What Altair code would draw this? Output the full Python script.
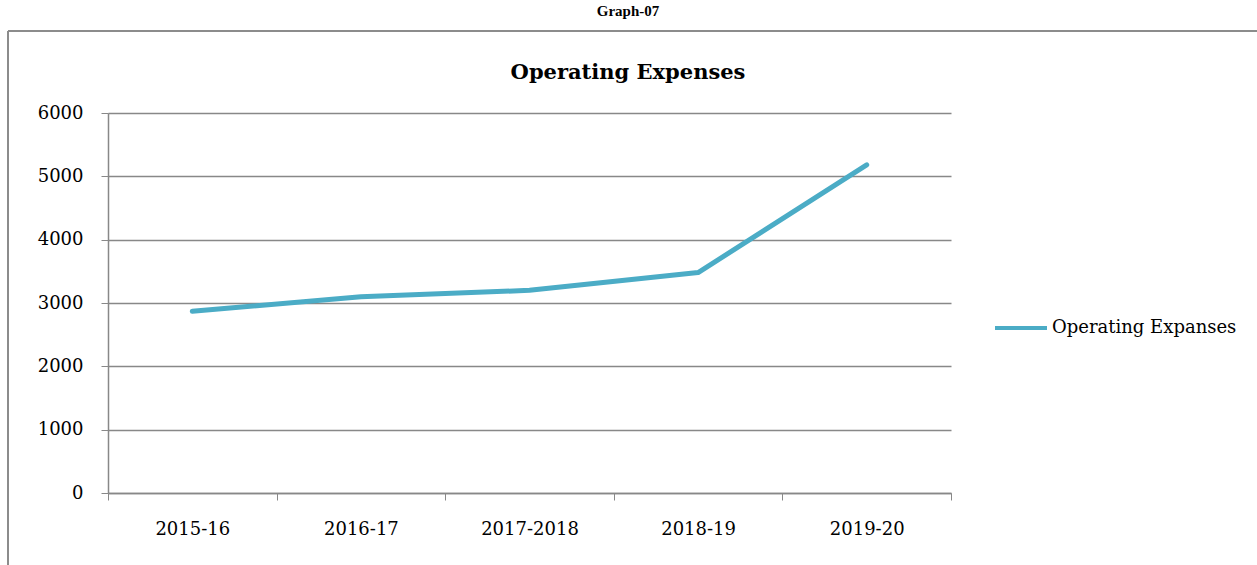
import altair as alt
import pandas as pd

# Operating expenses by financial year
years = ["2015-16", "2016-17", "2017-2018", "2018-19", "2019-20"]
expenses = [2870, 3100, 3200, 3480, 5180]
series_name = "Operating Expanses"
page_heading = "Graph-07"
chart_title = "Operating Expenses"

df = pd.DataFrame({"Year": years, "Value": expenses, "Series": [series_name] * len(years)})

LINE_COLOR = "#4BACC6"
GRID_COLOR = "#888888"
FONT = "DejaVu Serif"

line = alt.Chart(df).mark_line(strokeWidth=5, strokeCap="round", strokeJoin="round").encode(
    x=alt.X(
        "Year:N",
        sort=years,
        scale=alt.Scale(paddingInner=0, paddingOuter=0),
        axis=alt.Axis(
            title=None,
            labelAngle=0,
            tickBand="extent",
            tickSize=7,
            tickColor=GRID_COLOR,
            domainColor=GRID_COLOR,
            domainWidth=1.5,
            labelPadding=20,
            labelFont=FONT,
            labelFontSize=18,
            labelColor="#000000",
            grid=False,
        ),
    ),
    y=alt.Y(
        "Value:Q",
        scale=alt.Scale(domain=[0, 6000], nice=False),
        axis=alt.Axis(
            title=None,
            values=[0, 1000, 2000, 3000, 4000, 5000, 6000],
            format="d",
            tickSize=7,
            tickColor=GRID_COLOR,
            domainColor=GRID_COLOR,
            domainWidth=1.5,
            gridColor=GRID_COLOR,
            gridWidth=1.6,
            labelPadding=18,
            labelFont=FONT,
            labelFontSize=18,
            labelColor="#000000",
        ),
    ),
    color=alt.Color(
        "Series:N",
        scale=alt.Scale(range=[LINE_COLOR]),
        legend=alt.Legend(
            title=None,
            orient="none",
            legendX=885,
            legendY=187,
            symbolType="stroke",
            symbolSize=2704,
            symbolStrokeWidth=4,
            labelFont=FONT,
            labelFontSize=18,
            labelColor="#000000",
            labelOffset=3,
            labelLimit=400,
            padding=0,
        ),
    ),
)

# Outer frame: top edge and left edge of the bordered box
frame_top = alt.Chart(df).mark_rule(color="#8c8c8c", strokeWidth=2).encode(
    x=alt.value(-100), x2=alt.value(1160), y=alt.value(-82)
)
frame_left = alt.Chart(df).mark_rule(color="#8c8c8c", strokeWidth=2).encode(
    x=alt.value(-100), y=alt.value(-82), y2=alt.value(460)
)

# Page heading above the frame and the chart title inside it
heading = alt.Chart(pd.DataFrame({"t": [page_heading]})).mark_text(
    font="Liberation Serif", fontSize=15, fontWeight="bold", color="#000000",
    align="center", baseline="alphabetic",
).encode(text="t:N", x=alt.value(520), y=alt.value(-97))

title = alt.Chart(pd.DataFrame({"t": [chart_title]})).mark_text(
    font=FONT, fontSize=21, fontWeight="bold", color="#000000",
    align="center", baseline="alphabetic",
).encode(text="t:N", x=alt.value(520), y=alt.value(-34))

chart = (
    alt.layer(frame_top, frame_left, heading, title, line)
    .properties(
        width=843,
        height=380,
        autosize=alt.AutoSizeParams(type="none"),
        padding={"left": 108, "top": 113, "right": 306, "bottom": 72},
    )
    .configure_view(stroke=None)
)

chart.save("out.html", embed_options={"renderer": "svg", "actions": False})
